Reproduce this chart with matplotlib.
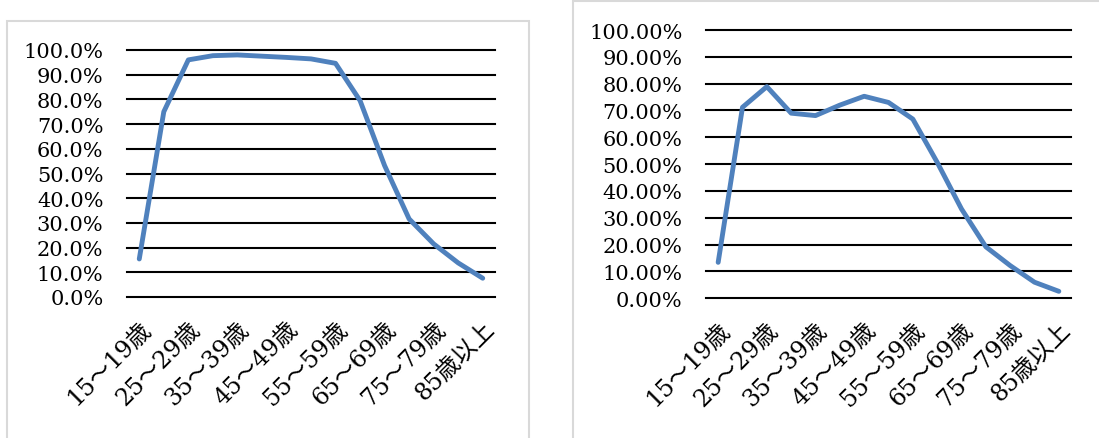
import matplotlib
matplotlib.use('Agg')
import matplotlib.pyplot as plt
from matplotlib.ticker import PercentFormatter, MultipleLocator
from matplotlib.patches import Rectangle
from matplotlib.transforms import ScaledTranslation

plt.rcParams['font.family'] = ['DejaVu Serif', 'Noto Sans CJK JP']

# age groups (15 classes, every other one labelled)
ages = ['15～19歳', '20～24歳', '25～29歳', '30～34歳', '35～39歳', '40～44歳',
        '45～49歳', '50～54歳', '55～59歳', '60～64歳', '65～69歳', '70～74歳',
        '75～79歳', '80～84歳', '85歳以上']

# left panel values (share)
left_vals = [0.154, 0.750, 0.960, 0.977, 0.980, 0.975, 0.970, 0.964, 0.946,
             0.795, 0.532, 0.316, 0.215, 0.138, 0.076]
# right panel values (share)
right_vals = [0.134, 0.712, 0.789, 0.690, 0.681, 0.720, 0.753, 0.730, 0.668,
              0.507, 0.333, 0.192, 0.122, 0.060, 0.026]

fig = plt.figure(figsize=(10.99, 4.39), dpi=100)
W, H = 1099, 439

# panel frames
fig.patches.append(Rectangle((7 / W, -0.1), (529 - 7) / W, 1.1 - 22 / H,
                             transform=fig.transFigure, fill=False,
                             edgecolor='#d9d9d9', linewidth=1.5))
fig.patches.append(Rectangle((573 / W, -0.1), 0.5, 1.1 - 2 / H,
                             transform=fig.transFigure, fill=False,
                             edgecolor='#d9d9d9', linewidth=1.5))

ax1 = fig.add_axes([127 / W, (H - 298) / H, 368 / W, 247 / H])
ax2 = fig.add_axes([706 / W, (H - 299.3) / H, 365 / W, 268.3 / H])


def style(ax, vals, decimals):
    x = list(range(len(ages)))
    ax.plot(x, vals, color='#4f81bd', linewidth=3.5, solid_capstyle='round',
            solid_joinstyle='round', zorder=3)
    ax.set_xlim(-0.5, len(ages) - 0.5)
    ax.set_ylim(0, 1)
    ax.yaxis.set_major_locator(MultipleLocator(0.1))
    ax.yaxis.set_major_formatter(PercentFormatter(1, decimals=decimals))
    ax.set_xticks(x[::2])
    ax.set_xticklabels(ages[::2], rotation=45, ha='right',
                       rotation_mode='anchor', fontsize=17)
    shift = ScaledTranslation(4 / 100, 0, fig.dpi_scale_trans)
    for lab in ax.get_xticklabels():
        lab.set_transform(lab.get_transform() + shift)
    ax.tick_params(axis='both', length=0)
    ax.tick_params(axis='y', labelsize=15, pad=17)
    ax.tick_params(axis='x', pad=14)
    ax.grid(axis='y', color='black', linewidth=1.5)
    for gl in ax.get_ygridlines():
        gl.set_clip_on(False)
    for s in ax.spines.values():
        s.set_visible(False)


style(ax1, left_vals, 1)
style(ax2, right_vals, 2)

fig.savefig('out.png', dpi=100)
